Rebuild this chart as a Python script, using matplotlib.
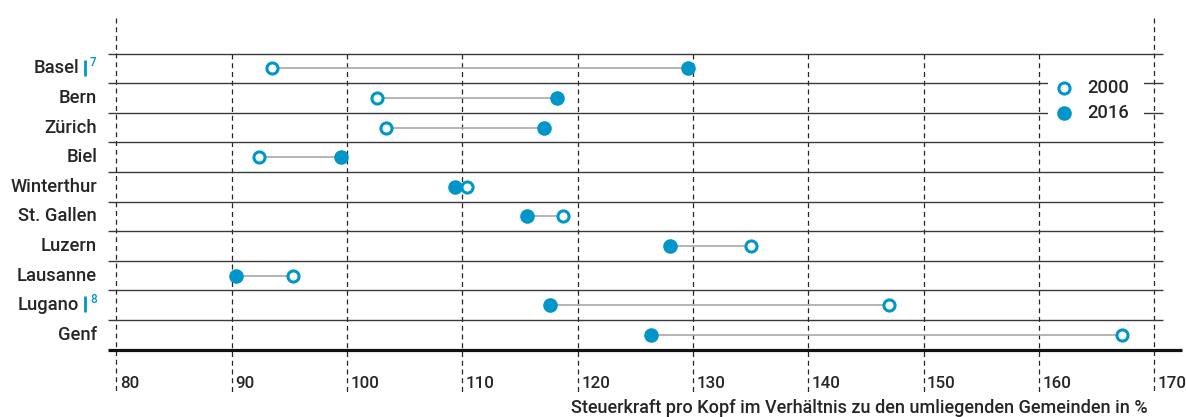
import matplotlib
matplotlib.use("Agg")
import matplotlib.pyplot as plt
from matplotlib.transforms import blended_transform_factory
from matplotlib.patches import Rectangle

plt.rcParams["font.family"] = ["Roboto", "DejaVu Sans"]

cities = ["Basel", "Bern", "Zürich", "Biel", "Winterthur", "St. Gallen",
          "Luzern", "Lausanne", "Lugano", "Genf"]
footnotes = {"Basel": "7", "Lugano": "8"}
val_2000 = [93.5, 102.6, 103.4, 92.4, 110.4, 118.7, 135.0, 95.3, 147.0, 167.2]
val_2016 = [129.6, 118.2, 117.1, 99.5, 109.4, 115.6, 128.0, 90.4, 117.6, 126.4]
ticks = [80, 90, 100, 110, 120, 130, 140, 150, 160, 170]
xlabel = "Steuerkraft pro Kopf im Verhältnis zu den umliegenden Gemeinden in %"

BLUE = "#0096c9"
DARK = "#262626"
GREY = "#a8a8a8"
FS = 13.2
WEIGHT = "medium"

W, H = 1186, 417
fig = plt.figure(figsize=(W / 100, H / 100), dpi=100)
ax = fig.add_axes([0, 0, 1, 1])
ax.set_axis_off()

# scale: 90 at 231.7 px, 11.53 px per unit; rows 29.6 px apart
ppu = 11.53
x90 = 231.7
ax.set_xlim(90 - x90 / ppu, 90 + (W - x90) / ppu)
row_h, row0 = 29.6, 68.4
ax.set_ylim((H - row0) / row_h, -row0 / row_h)

def px_x(p):
    return 90 + (p - x90) / ppu

def px_y(p):
    return (p - row0) / row_h

n = len(cities)
rows = list(range(n))

# vertical dashed gridlines
for t in ticks:
    top = px_y(18) if t in (ticks[0], ticks[-1]) else -0.5
    ax.plot([t, t], [top, px_y(393)], color=DARK, lw=0.9,
            ls=(0, (4, 3)), zorder=1)

# horizontal row rules
for i in range(n):
    ax.plot([px_x(108), px_x(1163)], [i - 0.5, i - 0.5], color="#3a3a3a",
            lw=1.0, zorder=1.5, solid_capstyle="butt")
# bottom axis line
ax.plot([px_x(108), px_x(1182)], [n - 0.5, n - 0.5], color="#111111",
        lw=2.3, zorder=1.5, solid_capstyle="butt")

# connectors and markers
for i in rows:
    ax.plot([val_2000[i], val_2016[i]], [i, i], color=GREY, lw=1.2, zorder=2)
ax.plot(val_2016, rows, ls="none", marker="o", ms=10.5, mfc=BLUE,
        mec=BLUE, mew=0, zorder=3)
ax.plot(val_2000, rows, ls="none", marker="o", ms=8.0, mfc="white",
        mec=BLUE, mew=2.2, zorder=3)

# category labels
tx = blended_transform_factory(fig.transFigure, ax.transData)
for i, c in enumerate(cities):
    if c in footnotes:
        ax.text(79 / W, i, c, transform=tx, ha="right", va="center",
                fontsize=FS, color=DARK, fontweight=WEIGHT)
        ax.plot([px_x(85), px_x(85)], [i - 0.30, i + 0.24], color=BLUE,
                lw=2.0, solid_capstyle="butt", zorder=3)
        ax.text(90 / W, i - 0.2, footnotes[c], transform=tx, ha="left",
                va="center", fontsize=8.5, color=BLUE, fontweight=WEIGHT)
    else:
        ax.text(97 / W, i, c, transform=tx, ha="right", va="center",
                fontsize=FS, color=DARK, fontweight=WEIGHT)

# tick labels
for t in ticks:
    ax.text(t + 3.5 / ppu, px_y(383), str(t), ha="left", va="center",
            fontsize=12.2, color=DARK, fontweight=WEIGHT)

ax.text(px_x(1148), px_y(408), xlabel, ha="right", va="center",
        fontsize=13.0, color=DARK, fontweight=WEIGHT)

# legend
ax.add_patch(Rectangle((px_x(1048), px_y(72)), (1144 - 1048) / ppu,
                       (128 - 72) / row_h, facecolor="white",
                       edgecolor="none", zorder=2.5))
ax.plot([px_x(1064)], [px_y(88)], marker="o", ms=8.0, mfc="white",
        mec=BLUE, mew=2.2, zorder=3)
ax.plot([px_x(1064)], [px_y(113)], marker="o", ms=10.5, mfc=BLUE,
        mec=BLUE, mew=0, zorder=3)
ax.text(px_x(1087), px_y(88), "2000", ha="left", va="center",
        fontsize=FS, color=DARK, fontweight=WEIGHT, zorder=3)
ax.text(px_x(1087), px_y(113), "2016", ha="left", va="center",
        fontsize=FS, color=DARK, fontweight=WEIGHT, zorder=3)

fig.savefig("out.png", dpi=100, facecolor="white")
